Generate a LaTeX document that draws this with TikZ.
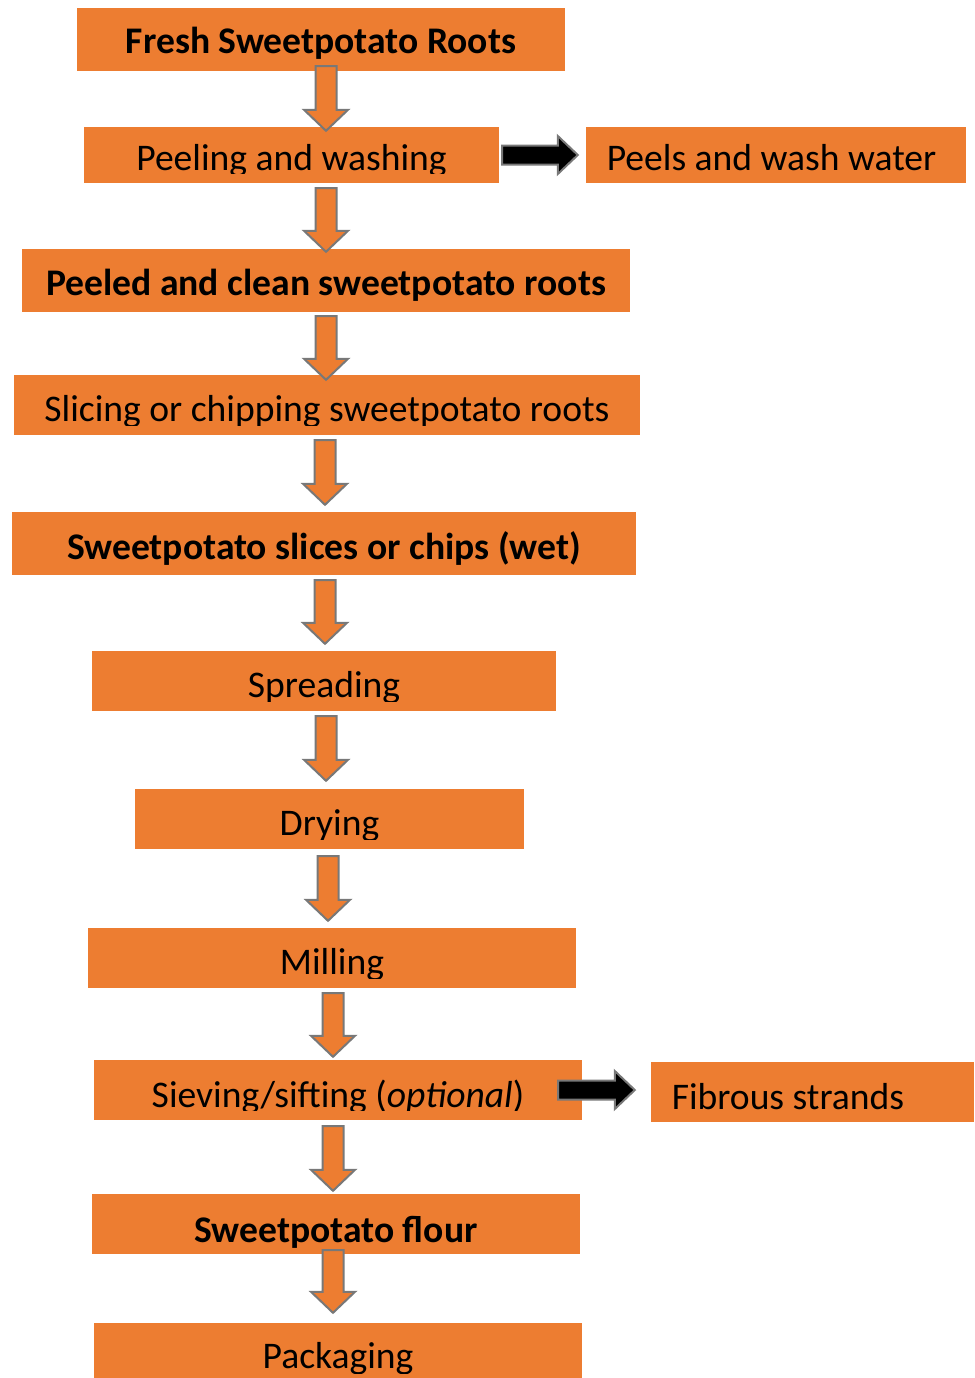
\documentclass[tikz,border=0pt]{standalone}
\usepackage{fontspec}
\setmainfont{Carlito}
\usetikzlibrary{calc}

\definecolor{boxorange}{RGB}{237,125,49}
\definecolor{arrowgrey}{RGB}{120,120,120}

\tikzset{
  stepbox/.style={fill=boxorange, draw=none, inner sep=0pt},
  steptext/.style={anchor=base, inner sep=0pt, font=\fontsize{37.6}{45}\selectfont},
  downarrow/.style={fill=boxorange, draw=arrowgrey, line width=2pt, line join=miter,
    to path={let \p1=(\tikztostart), \p2=(\tikztotarget) in
      (\x1-10.5pt,\y1) -- (\x1+10.5pt,\y1) -- (\x1+10.5pt,\y2+21pt) -- (\x1+22pt,\y2+21pt)
      -- (\x1,\y2) -- (\x1-22pt,\y2+21pt) -- (\x1-10.5pt,\y2+21pt) -- cycle}},
  sidearrow/.style={fill=black, draw=arrowgrey, line width=2pt, line join=miter,
    to path={let \p1=(\tikztostart), \p2=(\tikztotarget) in
      (\x1,\y1+9.5pt) -- (\x2-20pt,\y1+9.5pt) -- (\x2-20pt,\y1+19pt) -- (\x2,\y1)
      -- (\x2-20pt,\y1-19pt) -- (\x2-20pt,\y1-9.5pt) -- (\x1,\y1-9.5pt) -- cycle}}
}

% text of a box, cut off where the box frame ends
\newcommand{\boxtext}[5]{%
  \begin{scope}
    \clip ([yshift=#2]#1.south west) rectangle (#1.north east);
    \node[steptext] (#1-t) at ([xshift=#4,yshift=#3]#1.south) {#5};
  \end{scope}}

\begin{document}
\begin{tikzpicture}[x=1pt,y=-1pt]
  \useasboundingbox (0,0) rectangle (974,1378);

  %Shape: Rectangles
  \node[stepbox, minimum width=488pt, minimum height=63pt] (fresh) at (321,39.5) {};
  \node[stepbox, minimum width=415pt, minimum height=56pt] (peel) at (291.5,155) {};
  \node[stepbox, minimum width=380pt, minimum height=56pt] (peels) at (776,155) {};
  \node[stepbox, minimum width=608pt, minimum height=63pt] (peeled) at (326,280.5) {};
  \node[stepbox, minimum width=626pt, minimum height=60pt] (slice) at (327,405) {};
  \node[stepbox, minimum width=624pt, minimum height=63pt] (wet) at (324,543.5) {};
  \node[stepbox, minimum width=464pt, minimum height=60pt] (spread) at (324,681) {};
  \node[stepbox, minimum width=389pt, minimum height=60pt] (dry) at (329.5,819) {};
  \node[stepbox, minimum width=488pt, minimum height=60pt] (mill) at (332,958) {};
  \node[stepbox, minimum width=488pt, minimum height=60pt] (sieve) at (338,1090) {};
  \node[stepbox, minimum width=323pt, minimum height=60pt] (fibre) at (812.5,1092) {};
  \node[stepbox, minimum width=488pt, minimum height=60pt] (flour) at (336,1224) {};
  \node[stepbox, minimum width=488pt, minimum height=60pt] (pack) at (338,1353) {};

  % Text Nodes
  \boxtext{fresh}{0pt}{18pt}{0pt}{\bfseries Fresh Sweetpotato Roots}
  \boxtext{peel}{10pt}{12.5pt}{0pt}{Peeling and washing}
  \boxtext{peels}{10pt}{12.5pt}{-4.5pt}{Peels and wash water}
  \boxtext{peeled}{0pt}{17pt}{0pt}{\bfseries Peeled and clean sweetpotato roots}
  \boxtext{slice}{10pt}{13.5pt}{0pt}{Slicing or chipping sweetpotato roots}
  \boxtext{wet}{0pt}{16pt}{0pt}{\bfseries Sweetpotato slices or chips (wet)}
  \boxtext{spread}{10pt}{13.5pt}{0pt}{Spreading}
  \boxtext{dry}{10pt}{13.5pt}{0pt}{Drying}
  \boxtext{mill}{10pt}{13.5pt}{0pt}{Milling}
  \boxtext{sieve}{10pt}{13pt}{0pt}{Sieving/sifting (\textit{optional})}
  \boxtext{fibre}{10pt}{13pt}{-24.5pt}{Fibrous strands}
  \boxtext{flour}{0pt}{12pt}{0pt}{\bfseries Sweetpotato flour}
  \boxtext{pack}{10pt}{15pt}{0pt}{Packaging}

  % Block Arrows
  \draw[downarrow] ([xshift=5pt,yshift=5pt]fresh.south) to ([yshift=-4pt]peel.north);
  \draw[downarrow] ([xshift=34.5pt,yshift=-5pt]peel.south) to ([yshift=-3pt]peeled.north);
  \draw[downarrow] ([yshift=-4pt]peeled.south) to ([yshift=-5pt]slice.north);
  \draw[downarrow] ([xshift=-2pt,yshift=-5pt]slice.south) to ([yshift=7pt]wet.north);
  \draw[downarrow] ([xshift=1pt,yshift=-5pt]wet.south) to ([yshift=7pt]spread.north);
  \draw[downarrow] ([xshift=2pt,yshift=-5pt]spread.south) to ([yshift=8pt]dry.north);
  \draw[downarrow] ([xshift=-1.5pt,yshift=-7pt]dry.south) to ([yshift=7pt]mill.north);
  \draw[downarrow] ([xshift=1pt,yshift=-5pt]mill.south) to ([yshift=3pt]sieve.north);
  \draw[downarrow] ([xshift=-5pt,yshift=-6pt]sieve.south) to ([yshift=3pt]flour.north);
  \draw[downarrow] ([xshift=-3pt,yshift=4pt]flour.south) to ([yshift=10pt]pack.north);

  \draw[sidearrow] ([xshift=3pt]peel.east) to ([xshift=-8pt]peels.west);
  \draw[sidearrow] ([xshift=-24pt]sieve.east) to ([xshift=-16pt]fibre.west);
\end{tikzpicture}
\end{document}
